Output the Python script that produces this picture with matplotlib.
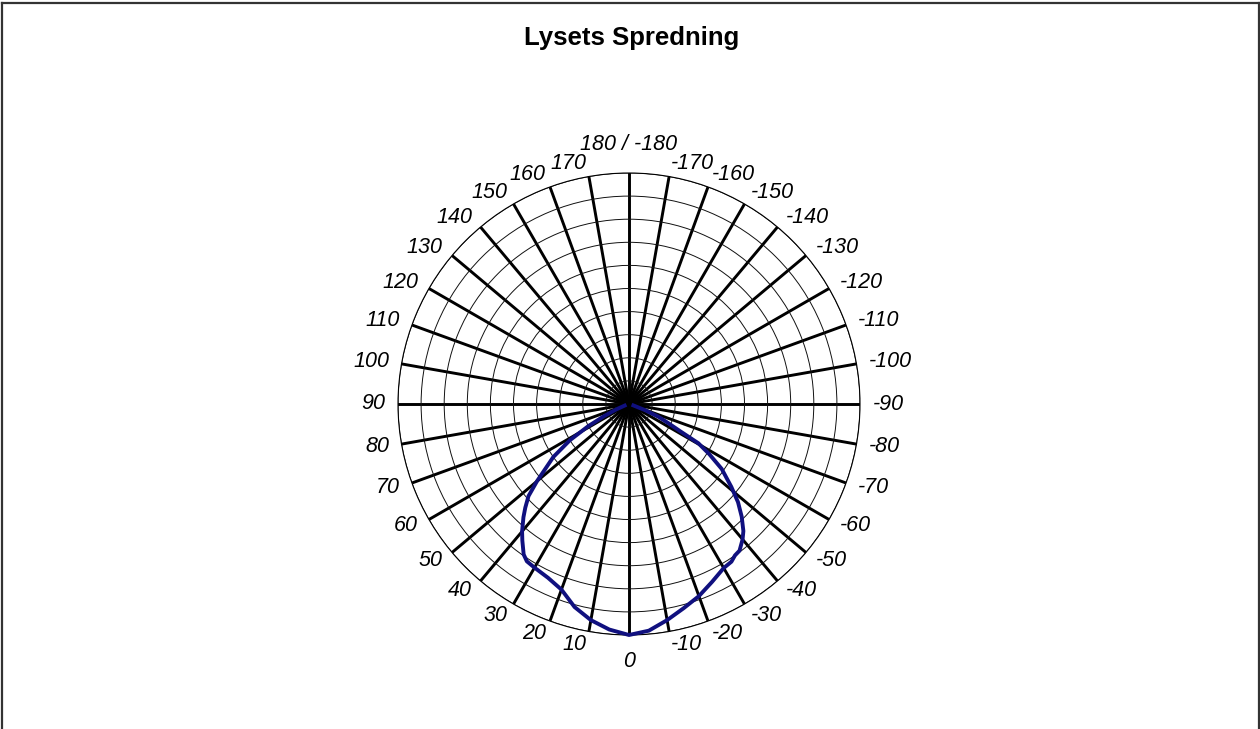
import numpy as np
import matplotlib
matplotlib.use('Agg')
import matplotlib.pyplot as plt
from matplotlib.lines import Line2D

plt.rcParams['font.family'] = ['Liberation Sans', 'DejaVu Sans']

# measured light spread (angle in degrees, relative intensity)
angles = [-72, -69, -66.5, -64, -62, -60.5, -58, -55, -51, -48, -45, -42, -40, -37,
          -35, -33, -30, -25, -20, -15, -10, -5, 0, 5, 10, 15, 20, 25, 30, 33, 35,
          38, 40, 43, 45, 47.5, 50, 55, 58.5, 61.5, 64, 67, 70]
intensity = [0.02, 0.075, 0.14, 0.19, 0.25, 0.345, 0.41, 0.49, 0.57, 0.635, 0.69,
             0.74, 0.765, 0.795, 0.80, 0.814, 0.82, 0.85, 0.885, 0.915, 0.95, 0.985,
             1.0, 0.98, 0.95, 0.91, 0.855, 0.83, 0.818, 0.812, 0.795, 0.75, 0.72,
             0.67, 0.635, 0.59, 0.52, 0.40, 0.30, 0.20, 0.12, 0.06, 0.02]

spoke_angles = list(range(0, 360, 10))
spoke_labels = ['0', '10', '20', '30', '40', '50', '60', '70', '80', '90', '100', '110',
                '120', '130', '140', '150', '160', '170', '180 / -180', '-170', '-160',
                '-150', '-140', '-130', '-120', '-110', '-100', '-90', '-80', '-70',
                '-60', '-50', '-40', '-30', '-20', '-10']
rings = [0.1, 0.2, 0.3, 0.4, 0.5, 0.6, 0.7, 0.8, 0.9, 1.0]

W, H = 1260, 729
fig = plt.figure(figsize=(W / 100, H / 100), dpi=100)
fig.patch.set_facecolor('white')

cx, cy, R = 629, 404, 231
ax = fig.add_axes([(cx - R) / W, (H - cy - R) / H, 2 * R / W, 2 * R / H], projection='polar')
ax.set_theta_zero_location('S')
ax.set_theta_direction(-1)
ax.set_ylim(0, 1)

ax.set_xticks(np.deg2rad(spoke_angles))
ax.set_xticklabels([])
ax.set_yticks(rings)
ax.set_yticklabels([])
ax.xaxis.grid(True, color='black', lw=2.1)
ax.yaxis.grid(True, color='#111111', lw=0.7)
ax.spines['polar'].set_linewidth(0.8)
ax.tick_params(length=0)

ax.plot(np.deg2rad(angles), intensity, color='#10107f', lw=2.8, zorder=5, clip_on=False)

# angle labels outside the circle
for a, lab in zip(spoke_angles, spoke_labels):
    t = np.deg2rad(a)
    s = np.sin(t)
    if a == 0:
        ax.text(t, 1.07, lab, ha='center', va='top', fontsize=15.5, style='italic')
    elif a == 180:
        ax.text(t, 1.08, lab, ha='center', va='bottom', fontsize=15.5, style='italic')
    else:
        ha = 'right' if s > 0 else 'left'
        ax.text(t, 1.055, lab, ha=ha, va='center', fontsize=15.5, style='italic')

fig.text(632 / W, 1 - 38 / H, 'Lysets Spredning', ha='center', va='center',
         fontsize=18.5, fontweight='bold')

# outer frame
for xs, ys in [([1.5 / W, 1.5 / W], [0, 1 - 2.5 / H]),
               ([1.5 / W, 1 - 1.5 / W], [1 - 2.5 / H, 1 - 2.5 / H]),
               ([1 - 1.5 / W, 1 - 1.5 / W], [0, 1 - 2.5 / H])]:
    fig.add_artist(Line2D(xs, ys, color='#333333', lw=1.6))

fig.savefig('out.png', dpi=100)
